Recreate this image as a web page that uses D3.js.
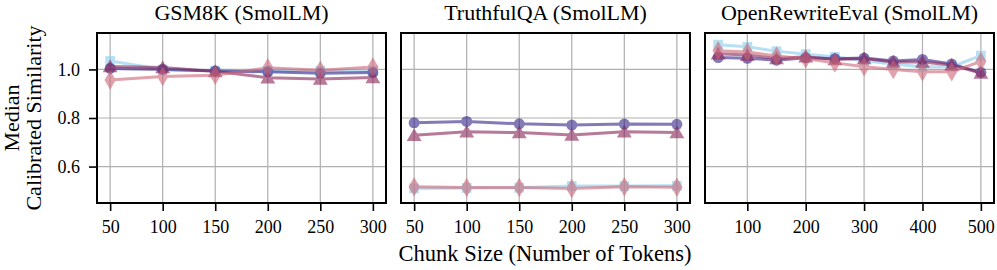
<!DOCTYPE html>
<html>
<head>
<meta charset="utf-8">
<script src="https://cdn.jsdelivr.net/npm/d3@7"></script>
<style>
  body { margin: 0; background: #fff; }
  svg { display: block; font-family: "Liberation Serif", "DejaVu Serif", serif; }
  .grid line { stroke: #b0b0b0; stroke-width: 1.2; }
  .axis path, .axis line { stroke: #000; stroke-width: 1.6; }
  .axis text { fill: #000; }
</style>
</head>
<body>
<div class="vis-div"></div>
<script>
// chunk sizes
const chunksShort = [50, 100, 150, 200, 250, 300];
const chunksLong = [50, 100, 150, 200, 250, 300, 350, 400, 450, 500];

const titles = ['GSM8K (SmolLM)', 'TruthfulQA (SmolLM)', 'OpenRewriteEval (SmolLM)'];
const yTicks = [0.6, 0.8, 1.0];

// GSM8K
const gsmSquare = [1.035, 1.000, 0.995, 0.994, 0.994, 0.994];
const gsmCircle = [1.004, 1.000, 0.994, 0.990, 0.984, 0.987];
const gsmTriangle = [1.012, 1.008, 0.992, 0.966, 0.961, 0.967];
const gsmDiamond = [0.956, 0.971, 0.976, 1.007, 0.997, 1.010];

// TruthfulQA
const tqaSquare = [0.510, 0.512, 0.513, 0.520, 0.520, 0.521];
const tqaCircle = [0.780, 0.786, 0.776, 0.771, 0.775, 0.774];
const tqaTriangle = [0.729, 0.743, 0.740, 0.730, 0.743, 0.740];
const tqaDiamond = [0.517, 0.514, 0.514, 0.510, 0.517, 0.515];

// OpenRewriteEval
const oreSquare = [1.102, 1.093, 1.075, 1.063, 1.052, 1.036, 1.022, 1.011, 1.011, 1.057];
const oreCircle = [1.049, 1.046, 1.038, 1.048, 1.044, 1.047, 1.035, 1.041, 1.022, 0.988];
const oreTriangle = [1.065, 1.059, 1.045, 1.052, 1.041, 1.045, 1.031, 1.031, 1.018, 0.985];
const oreDiamond = [1.077, 1.072, 1.055, 1.044, 1.027, 1.011, 1.000, 0.990, 0.990, 1.033];

const seriesStyle = [
    {color: '#88CCEE', symbol: d3.symbolSquare, size: 95},
    {color: '#332288', symbol: d3.symbolCircle, size: 95},
    {color: '#882255', symbol: d3.symbolTriangle, size: 95},
    {color: '#CC6677', symbol: d3.symbolDiamond, size: 110}
];

const panels = [
    {x: chunksShort, series: [gsmSquare, gsmCircle, gsmTriangle, gsmDiamond], left: 97, right: 386, xTicks: chunksShort},
    {x: chunksShort, series: [tqaSquare, tqaCircle, tqaTriangle, tqaDiamond], left: 401, right: 690, xTicks: chunksShort},
    {x: chunksLong, series: [oreSquare, oreCircle, oreTriangle, oreDiamond], left: 705, right: 994, xTicks: [100, 200, 300, 400, 500]}
];

const width = 997;
const height = 270;
const plotTop = 33;
const plotBottom = 203;
const serif = '"Liberation Serif", "DejaVu Serif", serif';

const svg = d3.select('.vis-div').append('svg')
    .attr('width', width)
    .attr('height', height);

const y = d3.scaleLinear().domain([0.45, 1.15]).range([plotBottom, plotTop]);

panels.forEach((p, i) => {
    const ext = d3.extent(p.x);
    const pad = (ext[1] - ext[0]) * 0.05;
    const x = d3.scaleLinear()
        .domain([ext[0] - pad, ext[1] + pad])
        .range([p.left, p.right]);

    const g = svg.append('g');

    // grid
    const grid = g.append('g').attr('class', 'grid');
    grid.selectAll('.gx').data(p.xTicks).join('line')
        .attr('x1', d => x(d)).attr('x2', d => x(d))
        .attr('y1', plotTop).attr('y2', plotBottom);
    grid.selectAll('.gy').data(yTicks).join('line')
        .attr('y1', d => y(d)).attr('y2', d => y(d))
        .attr('x1', p.left).attr('x2', p.right);

    const line = d3.line()
        .x((d, j) => x(p.x[j]))
        .y(d => y(d));

    p.series.forEach((vals, k) => {
        const st = seriesStyle[k];
        const sg = g.append('g').attr('opacity', 0.6);
        sg.append('path')
            .datum(vals)
            .attr('fill', 'none')
            .attr('stroke', st.color)
            .attr('stroke-width', 3)
            .attr('stroke-linejoin', 'round')
            .attr('d', line);
        sg.selectAll('.m').data(vals).join('path')
            .attr('transform', (d, j) => `translate(${x(p.x[j])},${y(d)})` + (st.symbol === d3.symbolTriangle ? ' translate(0,1.5)' : ''))
            .attr('d', d3.symbol().type(st.symbol).size(st.size))
            .attr('fill', st.color);
    });

    // x axis
    g.append('g')
        .attr('class', 'axis')
        .attr('transform', `translate(0,${plotBottom})`)
        .call(d3.axisBottom(x).tickValues(p.xTicks).tickSize(8).tickPadding(9).tickSizeOuter(0))
        .call(a => a.select('.domain').remove())
        .attr('font-family', serif)
        .attr('font-size', 18);

    if (i === 0) {
        g.append('g')
            .attr('class', 'axis')
            .attr('transform', `translate(${p.left},0)`)
            .call(d3.axisLeft(y).tickValues(yTicks).tickFormat(d3.format('.1f')).tickSize(8).tickPadding(9).tickSizeOuter(0))
            .call(a => a.select('.domain').remove())
            .attr('font-family', serif)
            .attr('font-size', 18);
    }

    // frame
    g.append('rect')
        .attr('x', p.left).attr('y', plotTop)
        .attr('width', p.right - p.left).attr('height', plotBottom - plotTop)
        .attr('fill', 'none')
        .attr('stroke', '#000')
        .attr('stroke-width', 2);

    g.append('text')
        .attr('x', (p.left + p.right) / 2)
        .attr('y', 20)
        .attr('text-anchor', 'middle')
        .attr('font-size', 22)
        .text(titles[i]);
});

svg.append('text')
    .attr('x', 545)
    .attr('y', 261)
    .attr('text-anchor', 'middle')
    .attr('font-size', 22.5)
    .text('Chunk Size (Number of Tokens)');

const yl = svg.append('text')
    .attr('transform', `translate(0,${(plotTop + plotBottom) / 2}) rotate(-90)`)
    .attr('text-anchor', 'middle')
    .attr('font-size', 22);
yl.append('tspan').attr('x', 0).attr('y', 19).text('Median');
yl.append('tspan').attr('x', 0).attr('y', 41).text('Calibrated Similarity');
</script>
</body>
</html>
